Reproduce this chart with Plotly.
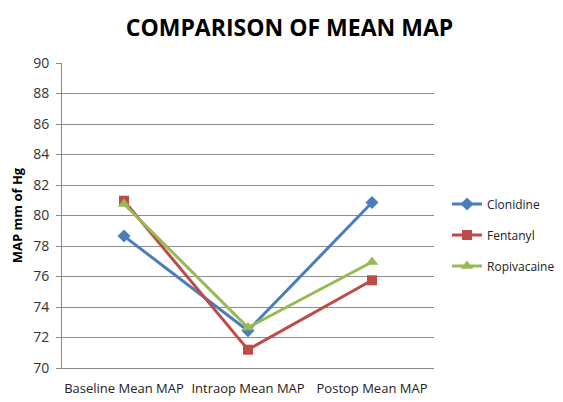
import plotly.graph_objects as go

categories = ["Baseline Mean MAP", "Intraop Mean MAP", "Postop Mean MAP"]
clonidine = [78.65, 72.45, 80.85]
fentanyl = [80.97, 71.2, 75.75]
ropivacaine = [80.75, 72.65, 76.95]

series = [
    ("Clonidine", clonidine, "#4A7EBB", "diamond", 10),
    ("Fentanyl", fentanyl, "#BE4B48", "square", 10),
    ("Ropivacaine", ropivacaine, "#98B954", "triangle-up", 11),
]

fig = go.Figure()
for name, vals, color, sym, size in series:
    fig.add_trace(go.Scatter(
        x=list(range(len(categories))), y=vals, name=name,
        legendgroup=name,
        mode="lines+markers",
        line=dict(color=color, width=3),
        marker=dict(symbol=sym, size=size, color=color),
    ))

font_family = "Open Sans, Liberation Sans, sans-serif"
fig.update_layout(
    width=563, height=402,
    margin=dict(l=54, r=137, t=55, b=42, autoexpand=False),
    paper_bgcolor="white", plot_bgcolor="white",
    title=dict(text="<b>COMPARISON OF MEAN MAP</b>", x=0.5, xanchor="center",
               y=0.95, yanchor="middle", automargin=False,
               font=dict(family=font_family, size=23, color="black")),
    font=dict(family=font_family, size=12, color="#404040"),
    legend=dict(x=1.035, y=0.436, xanchor="left", yanchor="middle",
                font=dict(size=12, color="#222"), tracegroupgap=12,
                itemwidth=30),
    showlegend=True,
)
fig.update_xaxes(
    tickmode="array", tickvals=list(range(len(categories))), ticktext=categories,
    range=[-0.5, 2.5], showgrid=False, showline=True, linecolor="#888",
    linewidth=1, ticks="", tickfont=dict(size=13, color="#222"),
    ticklabelstandoff=8,
    zeroline=False, automargin=False,
)
fig.update_yaxes(
    range=[70, 90], dtick=2, showgrid=True, gridcolor="#8c8c8c", gridwidth=1,
    showline=True, linecolor="#888", linewidth=1, ticks="outside",
    ticklen=5, tickcolor="#888", tickfont=dict(size=14, color="#333"),
    ticklabelstandoff=4,
    title=dict(text="<b>MAP mm of Hg</b>", font=dict(size=13, color="black"),
               standoff=18),
    zeroline=False, automargin=False,
)
fig.write_html("out.html")
